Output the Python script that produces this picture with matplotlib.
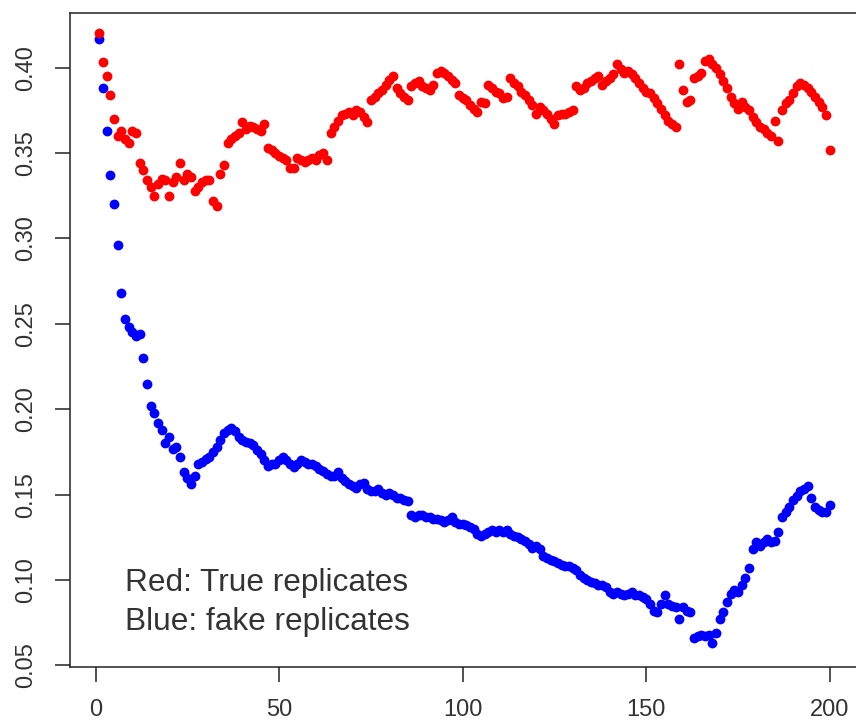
import matplotlib
matplotlib.use("Agg")
import matplotlib.pyplot as plt
import numpy as np

# replicate correlation per index
red_true = [
    0.420, 0.403, 0.395, 0.384, 0.370, 0.360, 0.363, 0.358, 0.356, 0.363,
    0.362, 0.344, 0.340, 0.334, 0.330, 0.325, 0.332, 0.335, 0.334, 0.325,
    0.333, 0.336, 0.344, 0.334, 0.338, 0.336, 0.328, 0.330, 0.333, 0.334,
    0.334, 0.322, 0.319, 0.338, 0.343, 0.356, 0.358, 0.360, 0.362, 0.368,
    0.364, 0.366, 0.365, 0.364, 0.363, 0.367, 0.353, 0.352, 0.350, 0.348,
    0.347, 0.346, 0.341, 0.341, 0.347, 0.346, 0.345, 0.346, 0.347, 0.346,
    0.349, 0.350, 0.346, 0.362, 0.365, 0.369, 0.372, 0.373, 0.374, 0.372,
    0.375, 0.374, 0.371, 0.368, 0.381, 0.383, 0.385, 0.387, 0.390, 0.393,
    0.395, 0.388, 0.385, 0.383, 0.381, 0.389, 0.391, 0.392, 0.389, 0.388,
    0.387, 0.390, 0.397, 0.398, 0.397, 0.395, 0.393, 0.391, 0.384, 0.382,
    0.381, 0.378, 0.376, 0.374, 0.380, 0.379, 0.390, 0.388, 0.386, 0.385,
    0.382, 0.383, 0.394, 0.391, 0.389, 0.386, 0.384, 0.381, 0.378, 0.373,
    0.377, 0.375, 0.373, 0.370, 0.367, 0.372, 0.373, 0.373, 0.374, 0.375,
    0.389, 0.387, 0.388, 0.391, 0.392, 0.394, 0.395, 0.390, 0.392, 0.394,
    0.396, 0.402, 0.399, 0.397, 0.398, 0.396, 0.394, 0.391, 0.388, 0.386,
    0.385, 0.382, 0.379, 0.376, 0.372, 0.369, 0.367, 0.365, 0.402, 0.387,
    0.380, 0.381, 0.394, 0.395, 0.397, 0.404, 0.405, 0.402, 0.400, 0.396,
    0.392, 0.388, 0.383, 0.379, 0.376, 0.380, 0.377, 0.375, 0.371, 0.368,
    0.365, 0.364, 0.362, 0.360, 0.369, 0.357, 0.375, 0.379, 0.381, 0.385,
    0.389, 0.391, 0.390, 0.388, 0.386, 0.383, 0.380, 0.377, 0.372, 0.352,
]
blue_fake = [
    0.417, 0.388, 0.363, 0.337, 0.320, 0.296, 0.268, 0.253, 0.248, 0.245,
    0.243, 0.244, 0.230, 0.215, 0.202, 0.198, 0.192, 0.188, 0.180, 0.184,
    0.177, 0.178, 0.172, 0.163, 0.160, 0.156, 0.161, 0.168, 0.169, 0.171,
    0.172, 0.175, 0.178, 0.182, 0.186, 0.188, 0.189, 0.187, 0.184, 0.182,
    0.181, 0.180, 0.179, 0.176, 0.174, 0.170, 0.167, 0.168, 0.168, 0.170,
    0.172, 0.170, 0.168, 0.166, 0.168, 0.170, 0.169, 0.168, 0.168, 0.167,
    0.165, 0.164, 0.162, 0.161, 0.161, 0.163, 0.160, 0.158, 0.156, 0.155,
    0.154, 0.156, 0.157, 0.153, 0.152, 0.152, 0.153, 0.151, 0.150, 0.151,
    0.150, 0.148, 0.148, 0.147, 0.146, 0.138, 0.137, 0.138, 0.138, 0.137,
    0.137, 0.136, 0.136, 0.135, 0.134, 0.135, 0.137, 0.134, 0.133, 0.133,
    0.132, 0.131, 0.130, 0.127, 0.126, 0.127, 0.128, 0.129, 0.128, 0.129,
    0.128, 0.129, 0.127, 0.126, 0.125, 0.124, 0.123, 0.121, 0.119, 0.120,
    0.118, 0.114, 0.113, 0.112, 0.111, 0.110, 0.109, 0.108, 0.108, 0.107,
    0.106, 0.103, 0.101, 0.100, 0.099, 0.098, 0.097, 0.097, 0.096, 0.093,
    0.092, 0.093, 0.092, 0.091, 0.092, 0.093, 0.091, 0.091, 0.090, 0.089,
    0.086, 0.082, 0.081, 0.086, 0.091, 0.086, 0.085, 0.084, 0.077, 0.084,
    0.082, 0.081, 0.066, 0.067, 0.068, 0.067, 0.068, 0.063, 0.069, 0.077,
    0.081, 0.087, 0.092, 0.094, 0.093, 0.097, 0.101, 0.107, 0.118, 0.122,
    0.120, 0.122, 0.124, 0.122, 0.123, 0.128, 0.137, 0.140, 0.143, 0.147,
    0.149, 0.152, 0.153, 0.155, 0.148, 0.143, 0.141, 0.140, 0.140, 0.144,
]
x_ticks = [0, 50, 100, 150, 200]
y_ticks = [0.05, 0.10, 0.15, 0.20, 0.25, 0.30, 0.35, 0.40]
notes = ["Red: True replicates", "Blue: fake replicates"]

plt.rcParams['font.family'] = ['Liberation Sans', 'DejaVu Sans']

W, H = 856, 726
fig = plt.figure(figsize=(W / 100, H / 100), dpi=100)
# box: left 70 px, top 13 px, bottom 667 px; right side runs off the image
ax = fig.add_axes([70 / W, (H - 667.3) / H, 789 / W, 654 / H])

idx = np.arange(1, len(red_true) + 1)
ax.scatter(idx, blue_fake, s=50, color='#0000FF', linewidths=0, zorder=3)
ax.scatter(idx, red_true, s=50, color='#FF0000', linewidths=0, zorder=4)

ax.set_xlim(-6.96, 207.96)
ax.set_ylim(0.0489, 0.4318)
ax.set_xticks(x_ticks)
ax.set_xticklabels([str(t) for t in x_ticks])
ax.set_yticks(y_ticks)
ax.set_yticklabels(["%.2f" % t for t in y_ticks], rotation=90, va='center')

ax.tick_params(axis='both', direction='out', length=10.5, width=1.1,
               colors='#222222', labelsize=17, labelcolor='#333333')
ax.tick_params(axis='x', pad=12)
ax.tick_params(axis='y', pad=13)
for sp in ax.spines.values():
    sp.set_linewidth(1.1)
    sp.set_color('#222222')

fig.text(125 / W, 1 - 583 / H, notes[0], fontsize=22.8, color='#333333', va='center')
fig.text(125 / W, 1 - 622 / H, notes[1], fontsize=22.8, color='#333333', va='center')

fig.savefig("out.png", dpi=100)
